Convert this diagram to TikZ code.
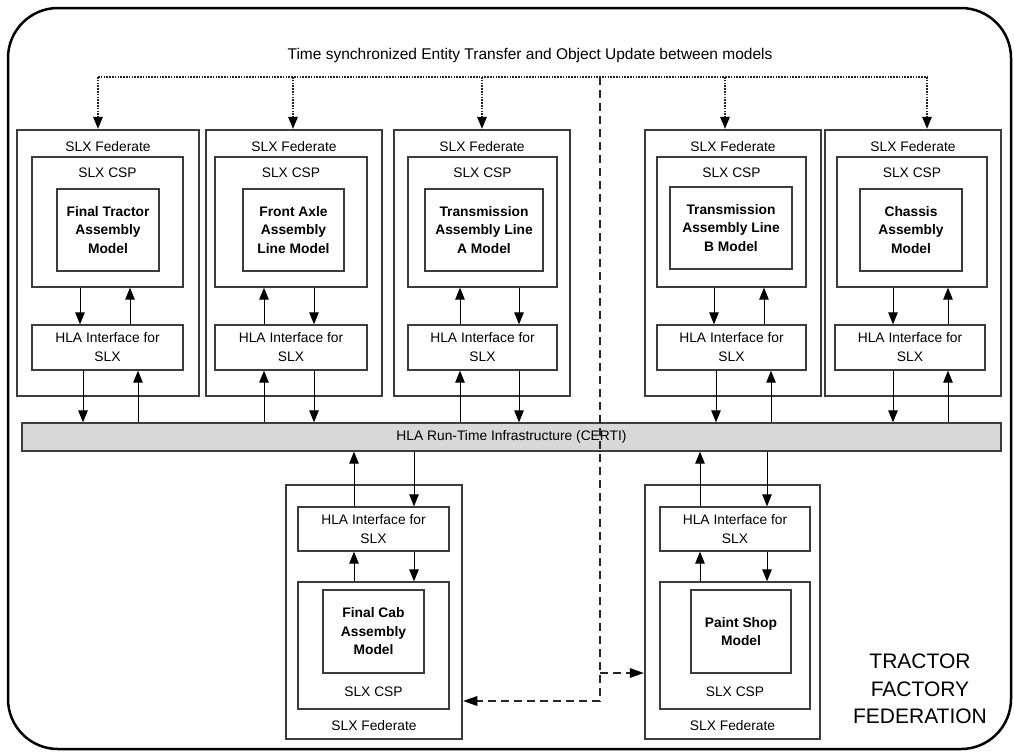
\documentclass[tikz,border=0pt]{standalone}
\usepackage{fontspec}
\setmainfont{Liberation Sans}
\usetikzlibrary{arrows.meta}
\definecolor{rtigray}{RGB}{216,216,216}
\definecolor{boxline}{RGB}{60,60,60}
\begin{document}
\begin{tikzpicture}[x=1pt,y=-1pt,
  bx/.style={draw=boxline, line width=1.3pt, rectangle, inner sep=0pt},
  fedbox/.style={bx, minimum height=266pt},
  fedboxb/.style={bx, minimum height=254pt},
  cspbox/.style={bx, minimum height=130pt},
  cspboxb/.style={bx, minimum height=127pt},
  modelbox/.style={bx, minimum height=82pt, align=center, font=\fontsize{13.8}{18.5}\selectfont\bfseries},
  hlabox/.style={bx, minimum height=45pt, align=center, font=\fontsize{13.8}{19}\selectfont},
  lbl/.style={inner sep=0pt, font=\fontsize{13.8}{19}\selectfont},
  arr/.style={draw=black, line width=1pt, -{Triangle[length=12pt,width=9.5pt]}},
  dotarr/.style={draw=black!85, line width=1.3pt, dash pattern=on 1.6pt off 1.2pt},
  dsh/.style={draw=black!85, line width=1.4pt, dash pattern=on 8pt off 5pt}
]
\useasboundingbox (0,0) rectangle (1014,753);
\node[draw=black, line width=2.5pt, rounded corners=50pt, minimum width=1003pt, minimum height=741pt, inner sep=0pt] (frame) at (509.5,378.5) {};

\node[inner sep=0pt, font=\fontsize{15.5}{18}\selectfont] (title) at (530,55) {Time synchronized Entity Transfer and Object Update between models};

% ---------- top row ----------
\node[fedbox, minimum width=182pt] (f1) at (108,263) {};
\node[fedbox, minimum width=176pt] (f2) at (294,263) {};
\node[fedbox, minimum width=176pt] (f3) at (482,263) {};
\node[fedbox, minimum width=176pt] (f4) at (733,263) {};
\node[fedbox, minimum width=176pt] (f5) at (913,263) {};

\node[lbl] (lf1) at (108,147) {SLX Federate};
\node[lbl] (lf2) at (294,147) {SLX Federate};
\node[lbl] (lf3) at (482,147) {SLX Federate};
\node[lbl] (lf4) at (733,147) {SLX Federate};
\node[lbl] (lf5) at (913,147) {SLX Federate};

\node[cspbox, minimum width=151pt] (c1) at (107.5,222) {};
\node[cspbox, minimum width=152pt] (c2) at (291,222) {};
\node[cspbox, minimum width=149pt] (c3) at (482.5,222) {};
\node[cspbox, minimum width=149pt] (c4) at (731.5,222) {};
\node[cspbox, minimum width=150pt] (c5) at (912,222) {};

\node[lbl] (lc1) at (107.5,173) {SLX CSP};
\node[lbl] (lc2) at (291,173) {SLX CSP};
\node[lbl] (lc3) at (482.5,173) {SLX CSP};
\node[lbl] (lc4) at (731.5,173) {SLX CSP};
\node[lbl] (lc5) at (912,173) {SLX CSP};

\node[modelbox, minimum width=102pt] (m1) at (108,230) {Final Tractor\\Assembly\\Model};
\node[modelbox, minimum width=101pt] (m2) at (293.5,230) {Front Axle\\Assembly\\Line Model};
\node[modelbox, minimum width=118pt] (m3) at (484,230) {Transmission\\Assembly Line\\A Model};
\node[modelbox, minimum width=122pt] (m4) at (731,228) {Transmission\\Assembly Line\\B Model};
\node[modelbox, minimum width=102pt] (m5) at (911,230) {Chassis\\Assembly\\Model};

\node[hlabox, minimum width=151pt] (h1) at (107.5,347.5) {HLA Interface for\\SLX};
\node[hlabox, minimum width=152pt] (h2) at (291,347.5) {HLA Interface for\\SLX};
\node[hlabox, minimum width=149pt] (h3) at (482.5,347.5) {HLA Interface for\\SLX};
\node[hlabox, minimum width=149pt] (h4) at (731.5,347.5) {HLA Interface for\\SLX};
\node[hlabox, minimum width=150pt] (h5) at (910,347.5) {HLA Interface for\\SLX};

% RTI
\node[bx, fill=rtigray, minimum width=979pt, minimum height=28pt, font=\fontsize{13.8}{19}\selectfont] (rti) at (511.5,437) {HLA Run-Time Infrastructure (CERTI)};

% ---------- bottom row ----------
\node[fedboxb, minimum width=176pt] (f6) at (374,612) {};
\node[fedboxb, minimum width=175pt] (f7) at (732.5,612) {};
\node[hlabox, minimum width=151pt, minimum height=44pt] (h6) at (373.5,529) {HLA Interface for\\SLX};
\node[hlabox, minimum width=150pt, minimum height=44pt] (h7) at (735,529) {HLA Interface for\\SLX};
\node[cspboxb, minimum width=151pt] (c6) at (373.5,645.5) {};
\node[cspboxb, minimum width=150pt] (c7) at (735,645.5) {};
\node[modelbox, minimum width=101pt, minimum height=83pt] (m6) at (373.5,631.5) {Final Cab\\Assembly\\Model};
\node[modelbox, minimum width=100pt, minimum height=83pt] (m7) at (741,631.5) {Paint Shop\\Model};
\node[lbl] (lc6) at (373.5,692) {SLX CSP};
\node[lbl] (lc7) at (735,692) {SLX CSP};
\node[lbl] (lf6) at (374,726) {SLX Federate};
\node[lbl] (lf7) at (732.5,726) {SLX Federate};

\node[inner sep=0pt, align=center, font=\fontsize{21}{27.5}\selectfont] (tff) at (920,689) {TRACTOR\\FACTORY\\FEDERATION};

% ---------- arrow x positions ----------
\coordinate (a1d) at (80,0);  \coordinate (a1u) at (130,0);
\coordinate (b1d) at (83,0);  \coordinate (b1u) at (138,0);
\coordinate (a2u) at (264,0); \coordinate (a2d) at (314,0);
\coordinate (a3u) at (460,0); \coordinate (a3d) at (519,0);
\coordinate (a4d) at (714,0); \coordinate (a4u) at (764,0);
\coordinate (b4d) at (716,0); \coordinate (b4u) at (771,0);
\coordinate (a5d) at (893,0); \coordinate (a5u) at (948,0);
\coordinate (a6u) at (354,0); \coordinate (a6d) at (414,0);
\coordinate (a7u) at (700,0); \coordinate (a7d) at (767,0);

% federate 1
\draw[arr] (a1d |- c1.south) -- (a1d |- h1.north);
\draw[arr] (a1u |- h1.north) -- (a1u |- c1.south);
\draw[arr] (b1d |- h1.south) -- (b1d |- rti.north);
\draw[arr] (b1u |- rti.north) -- (b1u |- h1.south);
% federate 2
\draw[arr] (a2u |- h2.north) -- (a2u |- c2.south);
\draw[arr] (a2d |- c2.south) -- (a2d |- h2.north);
\draw[arr] (a2u |- rti.north) -- (a2u |- h2.south);
\draw[arr] (a2d |- h2.south) -- (a2d |- rti.north);
% federate 3
\draw[arr] (a3u |- h3.north) -- (a3u |- c3.south);
\draw[arr] (a3d |- c3.south) -- (a3d |- h3.north);
\draw[arr] (a3u |- rti.north) -- (a3u |- h3.south);
\draw[arr] (a3d |- h3.south) -- (a3d |- rti.north);
% federate 4
\draw[arr] (a4d |- c4.south) -- (a4d |- h4.north);
\draw[arr] (a4u |- h4.north) -- (a4u |- c4.south);
\draw[arr] (b4d |- h4.south) -- (b4d |- rti.north);
\draw[arr] (b4u |- rti.north) -- (b4u |- h4.south);
% federate 5
\draw[arr] (a5d |- c5.south) -- (a5d |- h5.north);
\draw[arr] (a5u |- h5.north) -- (a5u |- c5.south);
\draw[arr] (a5d |- h5.south) -- (a5d |- rti.north);
\draw[arr] (a5u |- rti.north) -- (a5u |- h5.south);
% federate 6
\draw[arr] (a6u |- h6.north) -- (a6u |- rti.south);
\draw[arr] (a6d |- rti.south) -- (a6d |- h6.north);
\draw[arr] (a6u |- c6.north) -- (a6u |- h6.south);
\draw[arr] (a6d |- h6.south) -- (a6d |- c6.north);
% federate 7
\draw[arr] (a7u |- h7.north) -- (a7u |- rti.south);
\draw[arr] (a7d |- rti.south) -- (a7d |- h7.north);
\draw[arr] (a7u |- c7.north) -- (a7u |- h7.south);
\draw[arr] (a7d |- h7.south) -- (a7d |- c7.north);

% ---------- dotted synchronisation bus ----------
\coordinate (d1) at (98,77);
\coordinate (d2) at (293,77);
\coordinate (d3) at (482,77);
\coordinate (d4) at (725,77);
\coordinate (d5) at (927,77);
\draw[dotarr] (d1) -- (d5);
\foreach \i in {1,...,5}{
  \draw[dotarr] (d\i) -- ([yshift=10pt]d\i |- f\i.north);
  \fill[black] (d\i |- f\i.north) ++(0,-0.6) -- ++(-5,-12) -- ++(10,0) -- cycle;
}

% ---------- dashed link ----------
\coordinate (dtop) at (600,77);
\coordinate (dbr) at (600,673);
\coordinate (dbot) at (600,701);
\draw[dsh] (dtop) -- (dbot) -- ([xshift=12pt]dbot -| f6.east);
\fill[black] (dbot -| f6.east) ++(0.6,0) -- ++(14,-5) -- ++(0,10) -- cycle;
\draw[dsh] (dbr) -- ([xshift=-12pt]dbr -| f7.west);
\fill[black] (dbr -| f7.west) ++(-0.6,0) -- ++(-14,-5) -- ++(0,10) -- cycle;
\end{tikzpicture}
\end{document}
